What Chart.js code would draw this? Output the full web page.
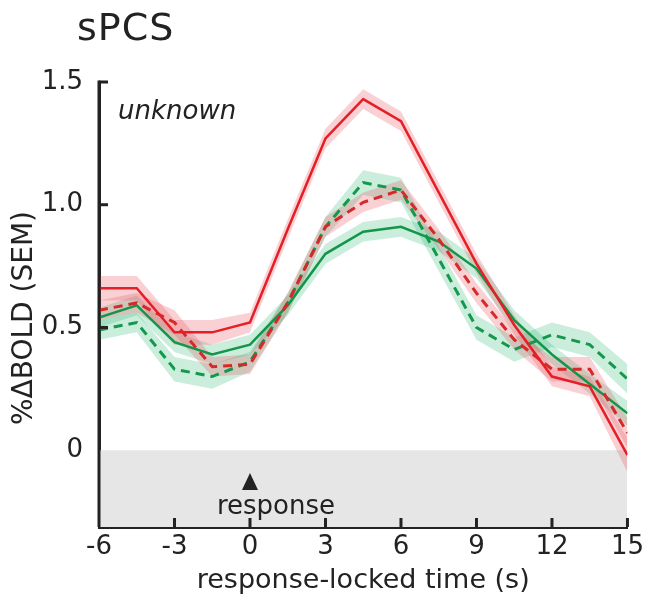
<!DOCTYPE html>
<html>
<head>
<meta charset="utf-8">
<script src="https://cdn.jsdelivr.net/npm/chart.js@4.4.0/dist/chart.umd.min.js"></script>
<style>
  html, body { margin: 0; padding: 0; background: #fff; }
</style>
</head>
<body>
<canvas id="chart" width="649" height="605"></canvas>
<script>
// time points (s), response-locked
const times = [-6, -4.5, -3, -1.5, 0, 1.5, 3, 4.5, 6, 7.5, 9, 10.5, 12, 13.5, 15];

// %BOLD
const redSolid   = [0.66, 0.66, 0.48, 0.48, 0.52, 0.90, 1.27, 1.43, 1.34, 1.05, 0.76, 0.51, 0.30, 0.26, -0.02];
const redDashed  = [0.57, 0.60, 0.52, 0.34, 0.35, 0.60, 0.91, 1.01, 1.06, 0.86, 0.64, 0.45, 0.33, 0.33, 0.07];
const greenSolid = [0.54, 0.59, 0.44, 0.39, 0.43, 0.59, 0.80, 0.89, 0.91, 0.85, 0.74, 0.53, 0.39, 0.27, 0.15];
const greenDashed= [0.49, 0.52, 0.33, 0.30, 0.36, 0.60, 0.91, 1.09, 1.06, 0.78, 0.50, 0.41, 0.47, 0.43, 0.29];

// SEM
const redSolidSem   = [0.05, 0.05, 0.05, 0.05, 0.04, 0.04, 0.04, 0.04, 0.04, 0.04, 0.04, 0.04, 0.04, 0.04, 0.07];
const redDashedSem  = [0.04, 0.04, 0.05, 0.04, 0.04, 0.04, 0.04, 0.04, 0.04, 0.04, 0.04, 0.04, 0.05, 0.05, 0.06];
const greenSolidSem = [0.04, 0.04, 0.04, 0.04, 0.04, 0.04, 0.04, 0.04, 0.04, 0.04, 0.04, 0.04, 0.04, 0.04, 0.05];
const greenDashedSem= [0.04, 0.04, 0.05, 0.05, 0.04, 0.04, 0.04, 0.05, 0.05, 0.05, 0.05, 0.05, 0.05, 0.05, 0.06];

const yTicks = [0, 0.5, 1.0, 1.5];
const xTickStep = 3;

const FONT = "'DejaVu Sans', Verdana, sans-serif";
const INK = '#222';

function pts(vals, sem, sign) {
  return times.map((t, i) => ({ x: t, y: sem ? vals[i] + sign * sem[i] : vals[i] }));
}

function line(vals, color, dashed) {
  return {
    data: pts(vals), borderColor: color, borderWidth: dashed ? 3 : 2.5,
    borderDash: dashed ? [9, 6] : [], pointRadius: 0, fill: false, tension: 0
  };
}

function band(vals, sem, color) {
  return [
    { data: pts(vals, sem, 1), borderWidth: 0, pointRadius: 0, fill: false },
    { data: pts(vals, sem, -1), borderWidth: 0, pointRadius: 0, fill: '-1', backgroundColor: color }
  ];
}

const redBand = 'rgba(235, 90, 100, 0.28)';
const greenBand = 'rgba(50, 185, 120, 0.26)';

const datasets = [
  line(redSolid, '#e41f26', false),
  line(redDashed, '#d42a2a', true),
  line(greenSolid, '#14964a', false),
  line(greenDashed, '#14984c', true),
  ...band(redSolid, redSolidSem, redBand),
  ...band(redDashed, redDashedSem, redBand),
  ...band(greenSolid, greenSolidSem, greenBand),
  ...band(greenDashed, greenDashedSem, greenBand),
  // grey below-zero region
  { data: [{ x: -6, y: 0 }, { x: 15, y: 0 }], borderWidth: 0, pointRadius: 0,
    fill: 'start', backgroundColor: '#e6e6e6' }
];

const decor = {
  id: 'decor',
  afterDraw(chart) {
    const ctx = chart.ctx;
    const xs = chart.scales.x, ys = chart.scales.y;
    const area = chart.chartArea;
    ctx.save();
    ctx.strokeStyle = INK;
    ctx.fillStyle = INK;
    ctx.lineWidth = 3;

    // inward ticks on x
    for (let v = -6 + xTickStep; v <= 15; v += xTickStep) {
      const px = xs.getPixelForValue(v);
      ctx.beginPath();
      ctx.moveTo(px, area.bottom);
      ctx.lineTo(px, area.bottom - 9);
      ctx.stroke();
    }
    // inward ticks on y
    yTicks.filter(v => v > 0).forEach(v => {
      const py = ys.getPixelForValue(v);
      ctx.beginPath();
      ctx.moveTo(area.left, py);
      ctx.lineTo(area.left + 9, py);
      ctx.stroke();
    });
    // top end of y axis
    ctx.beginPath();
    ctx.moveTo(area.left, area.top - 1.5);
    ctx.lineTo(area.left, area.bottom);
    ctx.stroke();

    // title
    ctx.font = '38px ' + FONT;
    ctx.letterSpacing = '1px';
    ctx.textAlign = 'left';
    ctx.textBaseline = 'alphabetic';
    ctx.fillText('sPCS', 77, 40);
    ctx.letterSpacing = '0px';

    // condition label
    ctx.font = 'italic 26px ' + FONT;
    ctx.fillText('unknown', 118, 119);

    // y title
    ctx.save();
    ctx.translate(25, 318);
    ctx.rotate(-Math.PI / 2);
    ctx.font = '28px ' + FONT;
    ctx.textAlign = 'center';
    ctx.textBaseline = 'middle';
    ctx.fillText('%\u0394BOLD (SEM)', 0, 0);
    ctx.restore();

    // response marker
    const x0 = xs.getPixelForValue(0);
    ctx.beginPath();
    ctx.moveTo(x0, 473);
    ctx.lineTo(x0 + 8, 490);
    ctx.lineTo(x0 - 8, 490);
    ctx.closePath();
    ctx.fill();
    ctx.font = '26px ' + FONT;
    ctx.textAlign = 'center';
    ctx.textBaseline = 'alphabetic';
    ctx.fillText('response', x0 + 26, 514);

    ctx.restore();
  }
};

new Chart(document.getElementById('chart'), {
  type: 'line',
  data: { datasets },
  options: {
    responsive: false,
    animation: false,
    devicePixelRatio: 1,
    layout: { padding: { left: 0, right: 19, top: 82, bottom: 0 } },
    plugins: { legend: { display: false }, tooltip: { enabled: false } },
    scales: {
      x: {
        type: 'linear', min: -6, max: 15, z: 1,
        grid: { display: false, drawTicks: false },
        border: { display: true, color: INK, width: 3 },
        ticks: { stepSize: xTickStep, color: INK, font: { family: FONT, size: 26 }, padding: 5 },
        title: { display: true, text: 'response-locked time (s)', color: INK,
                 font: { family: FONT, size: 27 }, padding: { top: 0, bottom: 8 } },
        afterFit: s => { s.height = 78; }
      },
      y: {
        type: 'linear', min: -0.313, max: 1.5, z: 1,
        grid: { display: false, drawTicks: false },
        border: { display: true, color: INK, width: 3 },
        afterBuildTicks: s => { s.ticks = yTicks.map(v => ({ value: v })); },
        ticks: { color: INK, font: { family: FONT, size: 26 }, padding: 16,
                 callback: v => v === 0 ? '0' : v.toFixed(1) },
        afterFit: s => { s.width = 99; }
      }
    }
  },
  plugins: [decor]
});
</script>
</body>
</html>
